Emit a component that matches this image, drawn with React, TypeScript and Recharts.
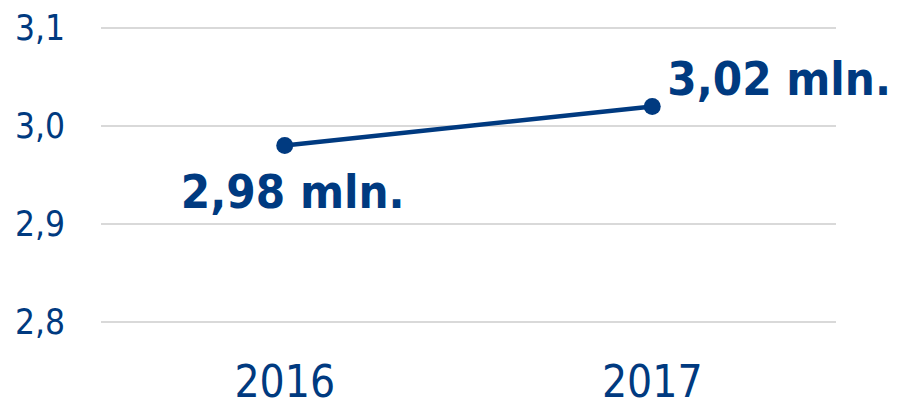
import React from 'react';
import { LineChart, Line, XAxis, YAxis, CartesianGrid, LabelList } from 'recharts';

const years = ['2016', '2017'];
const values = [2.98, 3.02];
const labels = ['2,98 mln.', '3,02 mln.'];
const yTicks = [2.8, 2.9, 3.0, 3.1];

const data = years.map((y, i) => ({ year: y, value: values[i], label: labels[i] }));

const COLOR = '#003A80';
const FONT = '"DejaVu Sans Condensed", "Liberation Sans", sans-serif';

const renderLabel = (props: any) => {
  const { x, y, index, value } = props;
  if (index === 0) {
    return (
      <text x={x + 8} y={y + 62} textAnchor="middle" fill={COLOR} fontFamily={FONT} fontWeight="bold" fontSize={47}>
        {value}
      </text>
    );
  }
  return (
    <text x={x + 15} y={y - 11} textAnchor="start" fill={COLOR} fontFamily={FONT} fontWeight="bold" fontSize={47}>
      {value}
    </text>
  );
};

export default function App() {
  return (
    <div style={{ position: 'absolute', left: 0, top: 0, width: 897, height: 403, background: '#fff' }}>
      <LineChart width={897} height={403} data={data} margin={{ top: 28, right: 61, bottom: 0, left: 0 }}>
        <CartesianGrid vertical={false} stroke="#D9D9D9" strokeWidth={2} />
        <XAxis
          dataKey="year"
          scale="band"
          height={81}
          axisLine={false}
          tickLine={false}
          tickSize={0}
          tickMargin={44}
          tick={{ fill: COLOR, fontSize: 44, fontFamily: FONT }}
        />
        <YAxis
          width={101}
          domain={[2.8, 3.1]}
          ticks={yTicks}
          axisLine={false}
          tickLine={false}
          tickSize={0}
          tickMargin={36}
          tickFormatter={(v: number) => v.toFixed(1).replace('.', ',')}
          tick={{ fill: COLOR, fontSize: 35, fontFamily: FONT }}
        />
        <Line
          type="linear"
          dataKey="value"
          stroke={COLOR}
          strokeWidth={4.5}
          dot={{ r: 8.5, fill: COLOR, stroke: COLOR, strokeWidth: 0 }}
          isAnimationActive={false}
        >
          <LabelList dataKey="label" content={renderLabel} />
        </Line>
      </LineChart>
    </div>
  );
}
